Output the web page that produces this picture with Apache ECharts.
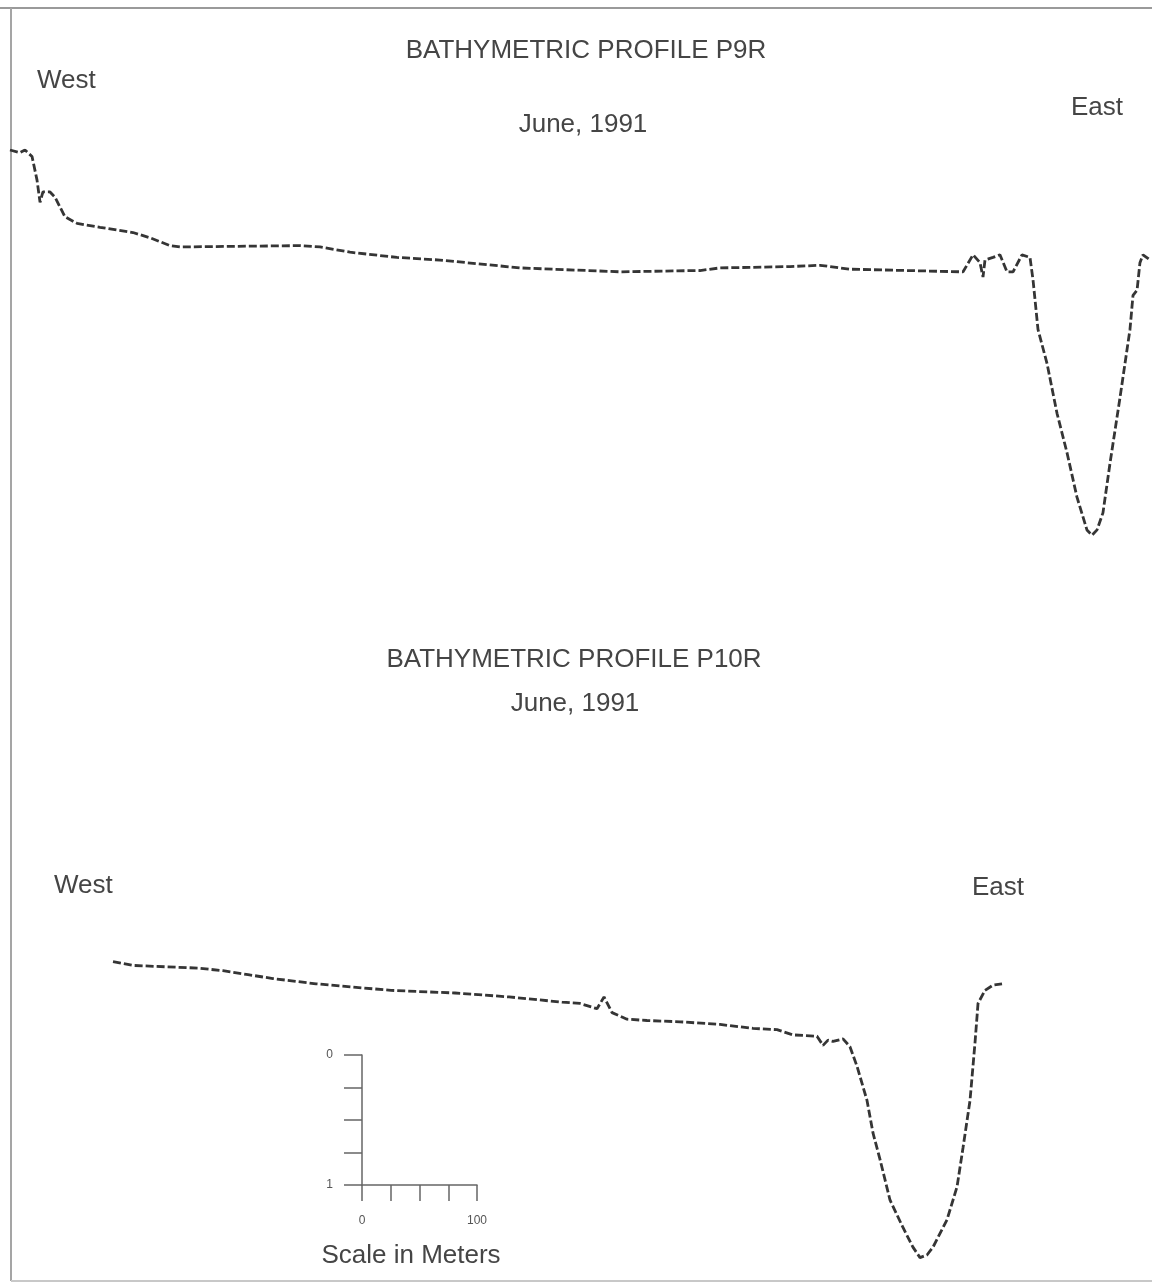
<!DOCTYPE html>
<html lang="en">
<head>
    <meta charset="UTF-8">
    <title>Bathymetric profiles P9R / P10R</title>
    <script src="https://cdn.jsdelivr.net/npm/echarts@6/dist/echarts.min.js"></script>
    <style>
        html, body { margin: 0; padding: 0; background: #fff; }
        #main { width: 1152px; height: 1284px; }
    </style>
</head>
<body>
<div id="main"></div>
<script>
    // distance along profile (m) and depth below first point (m)
    var p9rDistance = [0, 8.6, 12.9, 19, 23.3, 25.9, 28.4, 34.5, 38.8, 47.4, 57.8, 77.6, 106, 120.7, 137.9, 146.6,
        250, 267.2, 293.1, 333.6, 370.7, 439.7, 525.9, 594.8, 612.1, 672.4, 698.3, 724.1, 821.6, 830.2, 836.2,
        838.8, 840.5, 847.4, 853.4, 859.5, 864.7, 872.4, 879.3, 881.9, 886.2, 894, 902.6, 911.2, 919.8, 928.4,
        932.8, 937.1, 942.2, 948.3, 956.9, 965.5, 968.1, 971.6, 974.1, 976.7, 982.8];
    var p9rDepth = [0, 0.02, 0, 0.05, 0.23, 0.40, 0.32, 0.32, 0.36, 0.51, 0.56, 0.59, 0.63, 0.67, 0.73, 0.74,
        0.73, 0.74, 0.78, 0.82, 0.84, 0.90, 0.93, 0.92, 0.90, 0.89, 0.88, 0.91, 0.93, 0.80, 0.86,
        0.97, 0.84, 0.82, 0.80, 0.93, 0.93, 0.80, 0.82, 0.99, 1.37, 1.63, 2.01, 2.31, 2.65, 2.90,
        2.94, 2.90, 2.77, 2.39, 1.89, 1.37, 1.11, 1.07, 0.86, 0.80, 0.84];

    var p10rDistance = [88.8, 106.9, 162.1, 183.6, 205.2, 226.7, 263.8, 328.4, 383.6, 430.2, 475.9, 491.4, 506.0,
        512.1, 519.0, 531.9, 549.1, 577.6, 612.1, 640.5, 661.2, 675.0, 695.7, 700.9, 705.2, 709.5, 718.1, 724.1,
        730.2, 738.8, 744.0, 750.0, 758.6, 769.8, 778.4, 784.5, 790.5, 795.7, 807.8, 816.4, 821.6, 827.6, 831.9,
        834.5, 840.5, 847.4, 855.2];
    var p10rDepth = [0.05, 0.08, 0.10, 0.12, 0.15, 0.18, 0.22, 0.27, 0.29, 0.32, 0.36, 0.37, 0.41,
        0.32, 0.44, 0.49, 0.50, 0.51, 0.53, 0.56, 0.57, 0.61, 0.62, 0.69, 0.65, 0.66, 0.64, 0.70,
        0.85, 1.11, 1.36, 1.56, 1.87, 2.08, 2.23, 2.31, 2.29, 2.23, 2.02, 1.77, 1.47, 1.11, 0.67,
        0.37, 0.27, 0.23, 0.22];

    // scale bar
    var scaleXLabels = [0, 100];
    var scaleYLabels = [0, 1];

    var pxPerMeterX = 1.16;
    var pxPerMeterY = 131;
    var xMax = 984;

    function zip(a, b) {
        var out = [];
        for (var i = 0; i < a.length; i++) out.push([a[i], b[i]]);
        return out;
    }

    var txtColor = '#454545';
    var font = '"Liberation Sans", Arial, sans-serif';
    function label(text, x, y, size, align) {
        return {
            type: 'text', x: x, y: y,
            style: { text: text, fontSize: size, fontFamily: font, fill: txtColor,
                align: align || 'center', verticalAlign: 'middle' }
        };
    }

    var chart = echarts.init(document.getElementById('main'));

    var hiddenX = { type: 'value', min: 0, max: xMax, show: false };
    var lineStyle = { color: '#353535', width: 2.8, type: [8, 3] };

    var option = {
        backgroundColor: '#fff',
        animation: false,
        grid: [
            { left: 10, top: 150, width: xMax * pxPerMeterX, height: 3 * pxPerMeterY },
            { left: 10, top: 955, width: xMax * pxPerMeterX, height: 2.4 * pxPerMeterY },
            { left: 362, top: 1055, width: 115, height: 130 }
        ],
        xAxis: [
            Object.assign({ gridIndex: 0 }, hiddenX),
            Object.assign({ gridIndex: 1 }, hiddenX),
            {
                gridIndex: 2, type: 'value', min: 0, max: 100, interval: 25,
                axisLine: { onZero: false, lineStyle: { color: '#666', width: 1.5 } },
                axisTick: { inside: false, length: 16, lineStyle: { color: '#666', width: 1.5 } },
                splitLine: { show: false },
                axisLabel: {
                    margin: 30, fontSize: 12, color: '#555', fontFamily: font,
                    formatter: function (v) { return scaleXLabels.indexOf(v) >= 0 ? String(v) : ''; }
                }
            }
        ],
        yAxis: [
            { gridIndex: 0, type: 'value', min: 0, max: 3, inverse: true, show: false },
            { gridIndex: 1, type: 'value', min: 0, max: 2.4, inverse: true, show: false },
            {
                gridIndex: 2, type: 'value', min: 0, max: 1, interval: 0.25, inverse: true,
                axisLine: { show: true, onZero: false, lineStyle: { color: '#666', width: 1.5 } },
                axisTick: { show: true, inside: false, length: 18, lineStyle: { color: '#666', width: 1.5 } },
                splitLine: { show: false },
                axisLabel: {
                    margin: 29, fontSize: 12, color: '#555', fontFamily: font,
                    formatter: function (v) { return scaleYLabels.indexOf(v) >= 0 ? String(v) : ''; }
                }
            }
        ],
        series: [
            {
                name: 'P9R', type: 'line', xAxisIndex: 0, yAxisIndex: 0,
                data: zip(p9rDistance, p9rDepth), symbol: 'none', lineStyle: lineStyle
            },
            {
                name: 'P10R', type: 'line', xAxisIndex: 1, yAxisIndex: 1,
                data: zip(p10rDistance, p10rDepth), symbol: 'none', lineStyle: lineStyle
            }
        ],
        graphic: [
            // frame
            { type: 'line', shape: { x1: 0, y1: 8, x2: 1152, y2: 8 }, style: { stroke: '#9a9a9a', lineWidth: 2 } },
            { type: 'line', shape: { x1: 11, y1: 8, x2: 11, y2: 1281 }, style: { stroke: '#a5a5a5', lineWidth: 2 } },
            { type: 'line', shape: { x1: 11, y1: 1281, x2: 1152, y2: 1281 }, style: { stroke: '#c8c8c8', lineWidth: 2 } },
            label('BATHYMETRIC PROFILE P9R', 586, 51, 26),
            label('June, 1991', 583, 125, 26),
            label('West', 37, 81, 26, 'left'),
            label('East', 1071, 108, 26, 'left'),
            label('BATHYMETRIC PROFILE P10R', 574, 660, 26),
            label('June, 1991', 575, 704, 26),
            label('West', 54, 886, 26, 'left'),
            label('East', 972, 888, 26, 'left'),
            label('Scale in Meters', 411, 1256, 26)
        ]
    };
    chart.setOption(option);
</script>
</body>
</html>
